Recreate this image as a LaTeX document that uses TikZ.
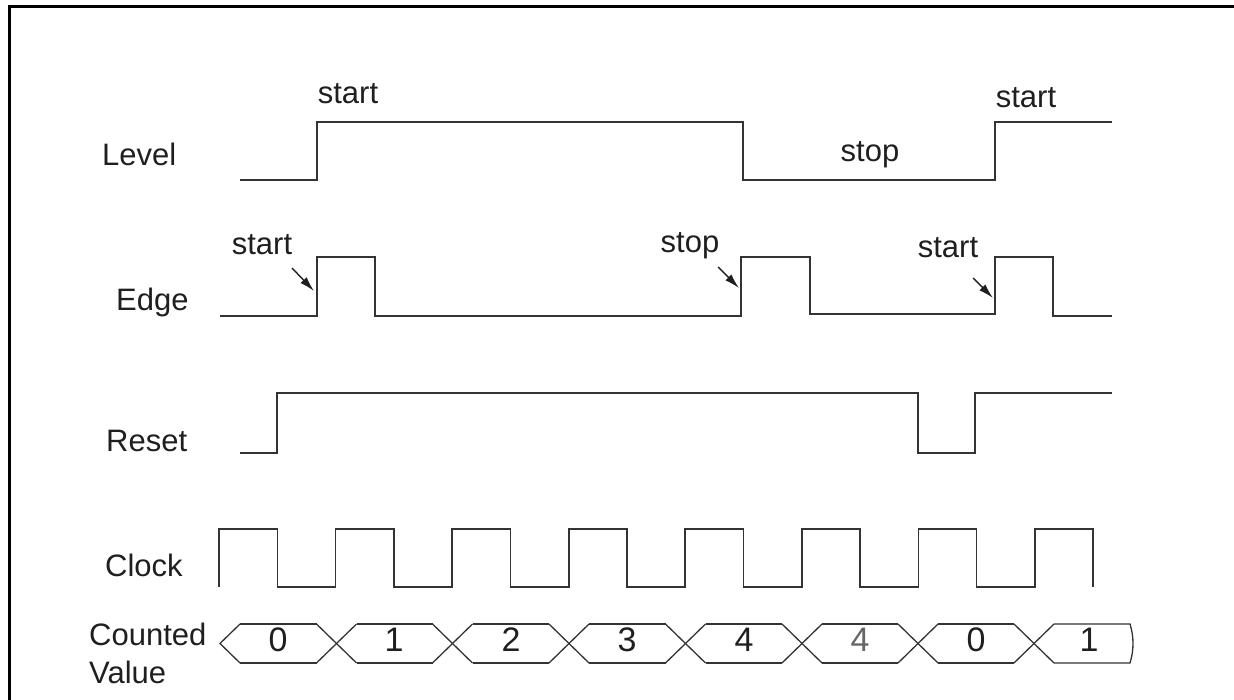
\documentclass[tikz,border=0pt]{standalone}
\usepackage{fontspec}
\setmainfont{Liberation Sans}
\usetikzlibrary{arrows.meta}
\begin{document}
\begin{tikzpicture}[x=1pt,y=-1pt,
 sig/.style={line width=1.6pt, draw=black!80, line join=miter},
 lbl/.style={anchor=base west, inner sep=0pt, font=\fontsize{31}{36}\selectfont, text=black!88},
 note/.style={anchor=base, inner sep=0pt, font=\fontsize{31}{36}\selectfont, text=black!88},
 val/.style={anchor=base, inner sep=0pt, font=\fontsize{34}{38}\selectfont, text=black!88},
 pointer/.style={line width=1.4pt, draw=black!88, -{Latex[length=15pt,width=8.5pt]}}]
\useasboundingbox (0,0) rectangle (1234,700);
% frame
\draw[line width=3pt] (9,700) -- (9,7) -- (1234,7);

% row labels
\node[lbl] (lLevel) at (102,166) {Level};
\node[lbl] (lEdge) at (116,311) {Edge};
\node[lbl] (lReset) at (106,451) {Reset};
\node[lbl] (lClock) at (105,576) {Clock};
\node[lbl] (lCount) at (89,645) {Counted};
\node[lbl] (lValue) at (89,683) {Value};

% Level
\draw[sig] (240,180) -- (317,180) -- (317,122) -- (743,122) -- (743,180) -- (995,180) -- (995,122) -- (1112,122);
\node[note] (lv1) at (348,104) {start};
\node[note] (lv2) at (870,162) {stop};
\node[note] (lv3) at (1026,108) {start};

% Edge
\draw[sig] (220,316) -- (317,316) -- (317,257) -- (375,257) -- (375,316) -- (741,316) -- (741,257) -- (810,257) -- (810,314) -- (995,314) -- (995,257) -- (1053,257) -- (1053,316) -- (1112,316);
\node[note] (ed1) at (262,255) {start};
\node[note] (ed2) at (690,253) {stop};
\node[note] (ed3) at (948,258) {start};
\coordinate (a1s) at (292,268); \coordinate (a1e) at (314,291);
\coordinate (a2s) at (718,267); \coordinate (a2e) at (739,288);
\coordinate (a3s) at (973,278); \coordinate (a3e) at (993,298);
\draw[pointer] (a1s) -- (a1e);
\draw[pointer] (a2s) -- (a2e);
\draw[pointer] (a3s) -- (a3e);

% Reset
\draw[sig] (240,453) -- (277,453) -- (277,393) -- (918,393) -- (918,453) -- (975,453) -- (975,393) -- (1112,393);

% Clock
\draw[sig] (219,587) -- (219,529)
  -- (277.3,529) -- (277.3,587) -- (335.6,587) -- (335.6,529)
  -- (393.9,529) -- (393.9,587) -- (452.1,587) -- (452.1,529)
  -- (510.4,529) -- (510.4,587) -- (568.7,587) -- (568.7,529)
  -- (627,529) -- (627,587) -- (685.2,587) -- (685.2,529)
  -- (743.5,529) -- (743.5,587) -- (801.8,587) -- (801.8,529)
  -- (860.1,529) -- (860.1,587) -- (918.3,587) -- (918.3,529)
  -- (976.6,529) -- (976.6,587) -- (1034.9,587) -- (1034.9,529)
  -- (1093.2,529) -- (1093.2,587);

% Counted value bus
\draw[sig, line width=1.3pt] (240,624) -- (220,643.5) -- (240,663);
\foreach \c in {336.5,452.5,569,685.5,802,918,1034}{
  \draw[sig, line width=1.3pt] (\c-20,624) -- (\c+20,663);
  \draw[sig, line width=1.3pt] (\c-20,663) -- (\c+20,624);
}
\foreach \a/\b in {240/316.5,356.5/432.5,472.5/549,589/665.5,705.5/782,822/898,938/1014}{
  \draw[sig, line width=1.3pt] (\a,624) -- (\b,624);
  \draw[sig, line width=1.3pt] (\a,663) -- (\b,663);
}
\draw[sig, line width=1.3pt] (1054,624) -- (1130,624) .. controls (1134,637) and (1134,650) .. (1130,663) -- (1054,663);
\node[val] (v0) at (278,651) {0};
\node[val] (v1) at (394,651) {1};
\node[val] (v2) at (511,651) {2};
\node[val] (v3) at (627,651) {3};
\node[val] (v4) at (744,651) {4};
\node[val, text=black!60] (v5) at (860,651) {4};
\node[val] (v6) at (976,651) {0};
\node[val] (v7) at (1089,651) {1};
\end{tikzpicture}
\end{document}
